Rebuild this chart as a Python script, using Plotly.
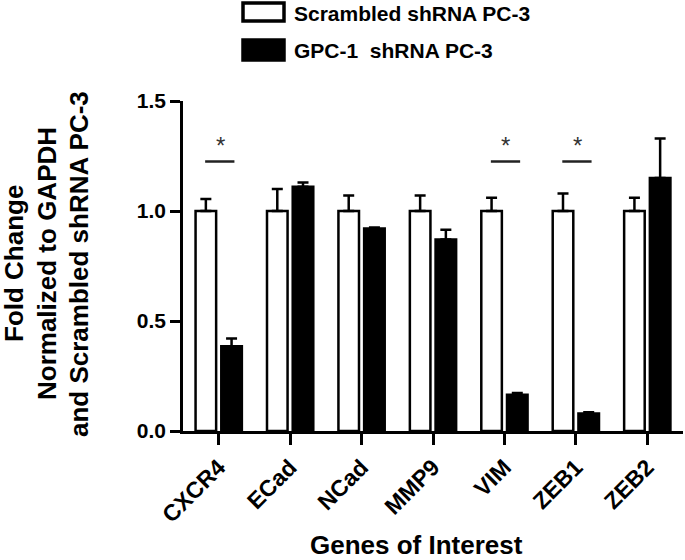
import plotly.graph_objects as go

genes = ["CXCR4", "ECad", "NCad", "MMP9", "VIM", "ZEB1", "ZEB2"]
scrambled = [1.0, 1.0, 1.0, 1.0, 1.0, 1.0, 1.0]
scrambled_err = [0.055, 0.10, 0.07, 0.07, 0.06, 0.08, 0.06]
gpc1 = [0.385, 1.11, 0.92, 0.87, 0.165, 0.08, 1.15]
gpc1_err = [0.035, 0.02, 0.005, 0.045, 0.008, 0.005, 0.18]
significant = ["CXCR4", "VIM", "ZEB1"]
sig_line_y = 1.225
sig_star_y = 1.30

FONT = "Liberation Sans, Arial, sans-serif"
x_idx = list(range(len(genes)))

fig = go.Figure()
fig.add_trace(go.Bar(
    x=x_idx, y=scrambled, name="Scrambled shRNA PC-3",
    marker=dict(color="white", line=dict(color="black", width=2.5)),
    error_y=dict(type="data", array=scrambled_err, arrayminus=[0] * len(genes),
                 symmetric=False, color="black", thickness=2.5, width=5.5),
    showlegend=False,
))
fig.add_trace(go.Bar(
    x=x_idx, y=gpc1, name="GPC-1  shRNA PC-3",
    marker=dict(color="black", line=dict(color="black", width=2.5)),
    error_y=dict(type="data", array=gpc1_err, arrayminus=[0] * len(genes),
                 symmetric=False, color="black", thickness=2.5, width=5.5),
    showlegend=False,
))

shapes = []
annotations = []
for g in significant:
    i = genes.index(g)
    shapes.append(dict(type="line", xref="x", yref="y", x0=i - 0.19, x1=i + 0.22,
                       y0=sig_line_y, y1=sig_line_y, line=dict(color="#222", width=2.5)))
    annotations.append(dict(x=i + 0.02, y=sig_star_y, xref="x", yref="y", text="*",
                            showarrow=False, font=dict(family=FONT, size=24, color="#333")))

# pixel helpers for paper-referenced decorations
L = 183.0
W = 500.0
B = 431.0
H = 330.0
def px_x(p):
    return (p - L) / W
def px_y(p):
    return (B - p) / H

# manual legend
shapes.append(dict(type="rect", xref="paper", yref="paper",
                   x0=px_x(243), x1=px_x(284), y0=px_y(21), y1=px_y(3),
                   fillcolor="white", line=dict(color="black", width=3.5)))
shapes.append(dict(type="rect", xref="paper", yref="paper",
                   x0=px_x(243), x1=px_x(284), y0=px_y(60), y1=px_y(40),
                   fillcolor="black", line=dict(color="black", width=3.5)))
annotations.append(dict(x=px_x(292), y=px_y(13), xref="paper", yref="paper",
                        text="Scrambled shRNA PC-3", showarrow=False,
                        xanchor="left", yanchor="middle",
                        font=dict(family=FONT, size=21, color="black", weight="bold")))
annotations.append(dict(x=px_x(292), y=px_y(51), xref="paper", yref="paper",
                        text="GPC-1\u00a0\u00a0shRNA PC-3", showarrow=False,
                        xanchor="left", yanchor="middle",
                        font=dict(family=FONT, size=21, color="black", weight="bold")))

# y-axis title lines
ytitle_lines = ["Fold Change", "Normalized to GAPDH", "and Scrambled shRNA PC-3"]
ytitle_px = [14, 47, 79]
for t, p in zip(ytitle_lines, ytitle_px):
    annotations.append(dict(x=px_x(p), y=px_y(264), xref="paper", yref="paper", text=t,
                            textangle=-90, showarrow=False, xanchor="center", yanchor="middle",
                            font=dict(family=FONT, size=26, color="black", weight="bold")))

annotations.append(dict(x=px_x(416), y=px_y(545), xref="paper", yref="paper",
                        text="Genes of Interest", showarrow=False,
                        xanchor="center", yanchor="middle",
                        font=dict(family=FONT, size=26, color="black", weight="bold")))

fig.update_layout(
    width=685, height=560,
    margin=dict(l=183, r=2, t=101, b=129),
    paper_bgcolor="white", plot_bgcolor="white",
    barmode="group", bargap=0.28, bargroupgap=0.2,
    font=dict(family=FONT, color="black"),
    shapes=shapes, annotations=annotations,
    xaxis=dict(
        range=[-0.5, 6.5], tickvals=x_idx, ticktext=genes, tickangle=-45,
        showline=True, linecolor="black", linewidth=2.5,
        ticks="outside", ticklen=11, tickwidth=2.5, tickcolor="black",
        showgrid=False, zeroline=False,
        tickfont=dict(family=FONT, size=23, color="black", weight="bold"),
    ),
    yaxis=dict(
        range=[0, 1.5], tickvals=[0, 0.5, 1.0, 1.5], ticktext=["0.0", "0.5", "1.0", "1.5"],
        showline=True, linecolor="black", linewidth=2.5,
        ticks="outside", ticklen=10, tickwidth=2.5, tickcolor="black",
        showgrid=False, zeroline=False,
        tickfont=dict(family=FONT, size=21, color="black", weight="bold"),
    ),
)

fig.write_html("out.html", config={"displayModeBar": False},
               post_script="document.body.style.margin='0';document.body.style.overflow='hidden';")
